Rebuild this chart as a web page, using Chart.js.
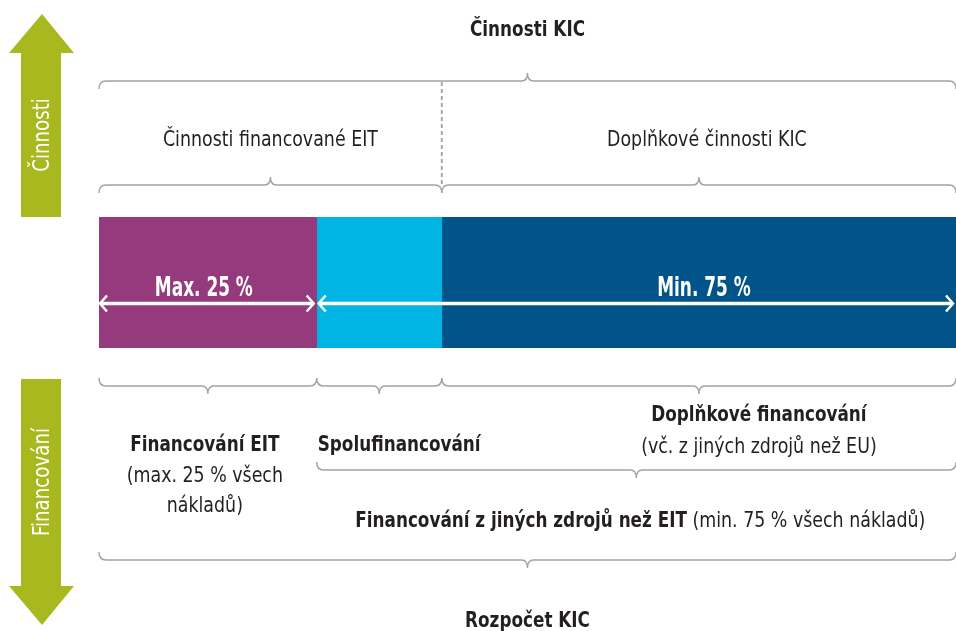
<!DOCTYPE html>
<html>
<head>
<meta charset="utf-8">
<script src="https://cdn.jsdelivr.net/npm/chart.js@4.4.1/dist/chart.umd.min.js"></script>
<style>
  html, body { margin: 0; padding: 0; background: #fff; }
  #wrap { width: 956px; height: 631px; }
</style>
</head>
<body>
<div id="wrap"><canvas id="kicChart" width="956" height="631"></canvas></div>
<script>
// data
const categories = ['Rozpočet KIC'];
const segmentNames = ['Financování EIT', 'Spolufinancování', 'Doplňkové financování'];
const segmentValues = [25.4, 14.6, 60];
const segmentColors = ['#953a7d', '#00b4e3', '#01548a'];
const arrowLabels = ['Max. 25 %', 'Min. 75 %'];
const activityLabels = ['Činnosti financované EIT', 'Doplňkové činnosti KIC'];

const FAM = '"Liberation Sans Narrow", "Arial Narrow", "DejaVu Sans Condensed", sans-serif';
const INK = '#231f20';
const GREY = '#a3a3a3';
const GREEN = '#aab820';

let SQR = 1, SQB = 1, SQL = 1; // horizontal squeeze so the narrow font matches the condensed original

function setFont(ctx, size, bold) {
  ctx.font = (bold ? 'bold ' : '') + size + 'px ' + FAM;
}
function textW(ctx, s, size, bold) {
  setFont(ctx, size, bold);
  return ctx.measureText(s).width * (bold ? SQB : SQR);
}
function txt(ctx, s, x, y, size, bold, color, align, rot, sq) {
  ctx.save();
  setFont(ctx, size, bold);
  ctx.fillStyle = color;
  ctx.textAlign = align || 'center';
  ctx.textBaseline = 'alphabetic';
  ctx.translate(x, y);
  if (rot) ctx.rotate(rot);
  ctx.scale(sq || (bold ? SQB : SQR), 1);
  ctx.fillText(s, 0, 0);
  ctx.restore();
}

// curly brace: dir -1 -> tip up, ends down ; dir 1 -> tip down, ends up
function brace(ctx, x0, x1, y, dir, tipX) {
  const h = 8, r = 7, c = 6, t = 8;
  const cx = tipX === undefined ? (x0 + x1) / 2 : tipX;
  ctx.beginPath();
  ctx.moveTo(x0, y - dir * h);
  ctx.quadraticCurveTo(x0, y, x0 + r, y);
  ctx.lineTo(cx - c, y);
  ctx.quadraticCurveTo(cx, y, cx, y + dir * t);
  ctx.quadraticCurveTo(cx, y, cx + c, y);
  ctx.lineTo(x1 - r, y);
  ctx.quadraticCurveTo(x1, y, x1, y - dir * h);
  ctx.stroke();
}

function dblArrow(ctx, xa, xb, y) {
  ctx.beginPath();
  ctx.moveTo(xa + 1, y); ctx.lineTo(xb - 1, y);
  ctx.lineWidth = 3.5;
  ctx.stroke();
  ctx.lineWidth = 2.5;
  ctx.beginPath();
  ctx.moveTo(xa + 8, y - 8); ctx.lineTo(xa + 1, y); ctx.lineTo(xa + 8, y + 8);
  ctx.moveTo(xb - 8, y - 8); ctx.lineTo(xb - 1, y); ctx.lineTo(xb - 8, y + 8);
  ctx.stroke();
}

const diagramPlugin = {
  id: 'kicDiagram',
  afterDraw(chart) {
    const { ctx, chartArea: ca, scales: { x } } = chart;
    const cum = [0];
    segmentValues.forEach(v => cum.push(cum[cum.length - 1] + v));
    const b = cum.map(v => x.getPixelForValue(v));

    ctx.save();

    // green side arrows
    ctx.fillStyle = GREEN;
    ctx.beginPath();
    ctx.moveTo(42, 14); ctx.lineTo(74, 53); ctx.lineTo(61, 53); ctx.lineTo(61, ca.top);
    ctx.lineTo(21, ca.top); ctx.lineTo(21, 53); ctx.lineTo(9, 53); ctx.closePath();
    ctx.fill();
    ctx.beginPath();
    ctx.moveTo(21, 379); ctx.lineTo(61, 379); ctx.lineTo(61, 586); ctx.lineTo(74, 586);
    ctx.lineTo(42, 625); ctx.lineTo(9, 586); ctx.lineTo(21, 586); ctx.closePath();
    ctx.fill();
    txt(ctx, 'Činnosti', 49, 135, 23, false, '#fff', 'center', -Math.PI / 2);
    txt(ctx, 'Financování', 49, 482, 23, false, '#fff', 'center', -Math.PI / 2);

    // braces
    ctx.strokeStyle = GREY;
    ctx.lineWidth = 1.4;
    brace(ctx, b[0], b[3], 81, -1);
    brace(ctx, b[0], b[2], 185, -1);
    brace(ctx, b[2], b[3], 185, -1);
    brace(ctx, b[0], b[1], 386, 1);
    brace(ctx, b[1], b[2], 386, 1);
    brace(ctx, b[2], b[3], 386, 1);
    brace(ctx, b[1], b[3], 470, 1);
    brace(ctx, b[0], b[3], 560, 1);

    // dashed divider
    ctx.save();
    ctx.strokeStyle = '#a9a9a9';
    ctx.lineWidth = 2;
    ctx.setLineDash([4, 3]);
    ctx.beginPath();
    ctx.moveTo(b[2], 82); ctx.lineTo(b[2], 186);
    ctx.stroke();
    ctx.restore();

    // arrows inside the bar
    ctx.strokeStyle = '#fff';
    const ay = ca.top + (ca.bottom - ca.top) * 0.66;
    dblArrow(ctx, b[0], b[1] - 2, ay);
    dblArrow(ctx, b[1] + 1, b[3] - 2, ay);
    txt(ctx, arrowLabels[0], (b[0] + b[1]) / 2 - 4, 296, 27, true, '#fff', 'center', 0, SQL);
    txt(ctx, arrowLabels[1], (b[2] + b[3]) / 2 + 5, 296, 27, true, '#fff', 'center', 0, SQL);

    // titles
    txt(ctx, 'Činnosti KIC', (b[0] + b[3]) / 2, 36, 22, true, INK);
    txt(ctx, activityLabels[0], (b[0] + b[2]) / 2, 146, 22, false, INK);
    txt(ctx, activityLabels[1], (b[2] + b[3]) / 2 + 8, 146, 22, false, INK);

    // financing labels
    txt(ctx, segmentNames[0], (b[0] + b[1]) / 2 - 3, 451, 22, true, INK);
    txt(ctx, '(max. 25 % všech', (b[0] + b[1]) / 2 - 3, 482, 22, false, INK);
    txt(ctx, 'nákladů)', (b[0] + b[1]) / 2 - 3, 512, 22, false, INK);
    txt(ctx, segmentNames[1], b[1] + 1, 451, 22, true, INK, 'left');
    txt(ctx, segmentNames[2], (b[2] + b[3]) / 2 + 60, 421, 22, true, INK);
    txt(ctx, '(vč. z jiných zdrojů než EU)', (b[2] + b[3]) / 2 + 60, 453, 22, false, INK);

    const p1 = 'Financování z jiných zdrojů než EIT', p2 = ' (min. 75 % všech nákladů)';
    const w1 = textW(ctx, p1, 22, true), w2 = textW(ctx, p2, 22, false);
    const sx = (b[1] + b[3]) / 2 + 4 - (w1 + w2) / 2;
    txt(ctx, p1, sx, 527, 22, true, INK, 'left');
    txt(ctx, p2, sx + w1, 527, 22, false, INK, 'left');

    txt(ctx, categories[0], (b[0] + b[3]) / 2, 627, 22, true, INK);
    ctx.restore();
  }
};

// calibrate the condensed look
(function calibrate() {
  const c = document.createElement('canvas').getContext('2d');
  setFont(c, 22, false);
  SQR = Math.min(1.1, 215 / c.measureText('Činnosti financované EIT').width);
  setFont(c, 22, true);
  SQB = Math.min(1.1, 115 / c.measureText('Činnosti KIC').width);
  setFont(c, 27, true);
  SQL = Math.min(1.1, 98 / c.measureText('Max. 25 %').width);
})();

new Chart(document.getElementById('kicChart'), {
  type: 'bar',
  data: {
    labels: categories,
    datasets: segmentValues.map((v, i) => ({
      label: segmentNames[i],
      data: [v],
      backgroundColor: segmentColors[i],
      borderWidth: 0,
      barPercentage: 1,
      categoryPercentage: 1
    }))
  },
  options: {
    indexAxis: 'y',
    responsive: false,
    animation: false,
    layout: { padding: { top: 217, bottom: 283, left: 99, right: 0 } },
    scales: {
      x: { stacked: true, min: 0, max: 100, display: false },
      y: { stacked: true, display: false }
    },
    plugins: { legend: { display: false }, tooltip: { enabled: false } }
  },
  plugins: [diagramPlugin]
});
</script>
</body>
</html>
